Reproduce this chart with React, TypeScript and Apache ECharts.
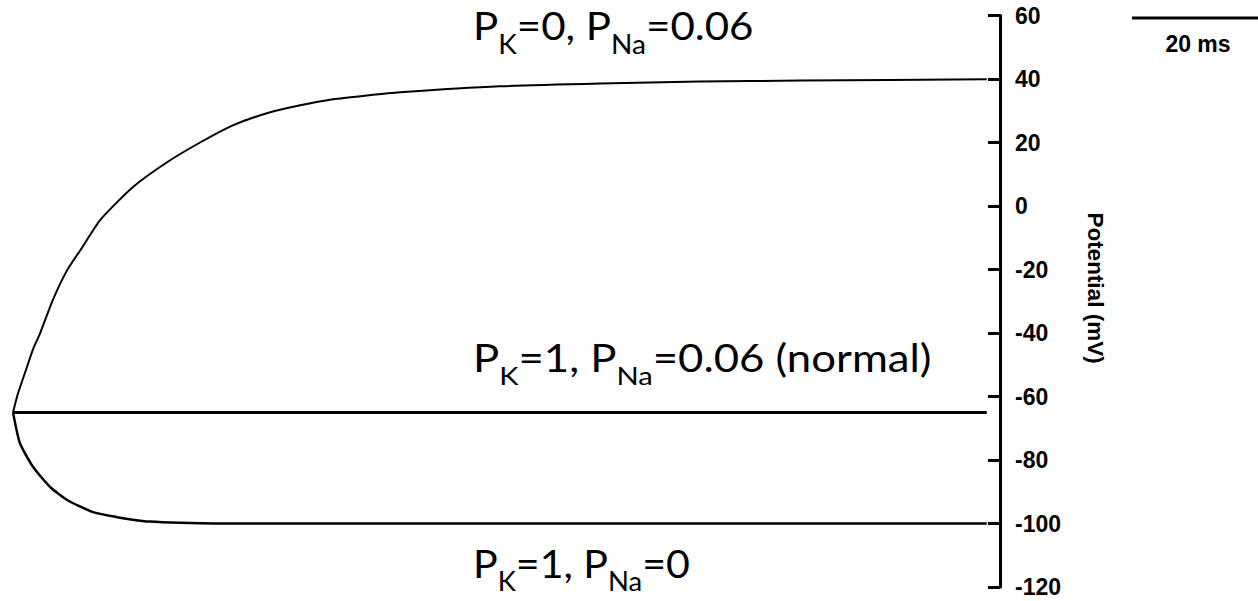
import React, { useEffect, useRef } from "react";
import * as echarts from "echarts";

// time (ms) and membrane potential (mV)
const depolTime = [0, 0.8, 2.2, 3.2, 4.3, 6.3, 8.6, 11, 13.8, 19, 24.4, 29.7, 34.9, 40.3, 45.6, 50.8, 56.2, 61.4, 77.3, 93.2, 109, 125, 154.6];
const depolMv = [-65, -59, -50.8, -45, -40.1, -29.7, -20.2, -13, -4.5, 5.9, 13.7, 20, 25.4, 29.2, 31.7, 33.6, 34.8, 35.8, 37.7, 38.6, 39.2, 39.5, 39.9];

const normalTime = [0, 154.6];
const normalMv = [-65, -65];

const hyperTime = [0, 1.1, 3.2, 5.9, 8.6, 12.7, 16.5, 19, 21.7, 26.5, 32, 154.6];
const hyperMv = [-65, -74.7, -82.2, -88.5, -92.6, -96.4, -98.0, -98.8, -99.4, -99.8, -100, -100];

const yMin = -120;
const yMax = 60;
const yStep = 20;
const xMax = 156.7;
const scaleBarMs = 20;
const scaleBarLabel = "20 ms";
const yAxisName = "Potential (mV)";

const labelTop = "{m|P}{s|K}{m|=0, P}{s|Na}{m|=0.06}";
const labelNormal = "{m|P}{s|K}{m|=1, P}{s|Na}{m|=0.06 (normal)}";
const labelBottom = "{m|P}{s|K}{m|=1, P}{s|Na}{m|=0}";

const zip = (t: number[], v: number[]) => t.map((x, i) => [x, v[i]]);

const W = 1258;
const H = 601;
const gridLeft = 13;
const gridRight = 258;
const gridTop = 15.5;
const gridBottom = 14;

const rich = {
  m: { fontFamily: "Lato", fontSize: 39, lineHeight: 48, verticalAlign: "top", fill: "#000" },
  s: { fontFamily: "Lato", fontSize: 26, lineHeight: 26, verticalAlign: "top", padding: [25, 0, 0, 0], fill: "#000" },
};

export default function App() {
  const ref = useRef<HTMLDivElement>(null);
  useEffect(() => {
    if (!ref.current) return;
    const chart = echarts.init(ref.current, undefined, { renderer: "svg" });
    const pxPerMs = (W - gridLeft - gridRight) / xMax;
    const barLen = scaleBarMs * pxPerMs;
    const barX = 1132;
    const lineBase = { type: "line", showSymbol: false, symbol: "none", smooth: 0.2, silent: true };
    const font = "Liberation Sans, Arial";
    chart.setOption({
      animation: false,
      grid: { left: gridLeft, right: gridRight, top: gridTop, bottom: gridBottom },
      xAxis: { type: "value", min: 0, max: xMax, show: false },
      yAxis: {
        type: "value",
        position: "right",
        min: yMin,
        max: yMax,
        interval: yStep,
        axisLine: { show: true, onZero: false, lineStyle: { color: "#000", width: 3 } },
        axisTick: { show: true, inside: true, length: 12, lineStyle: { color: "#000", width: 3 } },
        axisLabel: { margin: 15, color: "#000", fontFamily: font, fontWeight: "bold", fontSize: 23 },
        splitLine: { show: false },
      },
      series: [
        { ...lineBase, data: zip(depolTime, depolMv), lineStyle: { color: "#000", width: 2 } },
        { ...lineBase, data: zip(normalTime, normalMv), lineStyle: { color: "#000", width: 3 } },
        { ...lineBase, data: zip(hyperTime, hyperMv), lineStyle: { color: "#000", width: 2.5 } },
      ],
      graphic: [
        { type: "line", shape: { x1: barX, y1: 18, x2: barX + barLen, y2: 18 }, style: { stroke: "#000", lineWidth: 3 } },
        { type: "text", x: barX + barLen / 2 + 3, y: 44, style: { text: scaleBarLabel, align: "center", verticalAlign: "middle", fontFamily: font, fontWeight: "bold", fontSize: 23, fill: "#000" } },
        { type: "text", x: 1095, y: 288, rotation: -Math.PI / 2, style: { text: yAxisName, align: "center", verticalAlign: "middle", fontFamily: font, fontWeight: "bold", fontSize: 22.5, fill: "#000" } },
        { type: "text", x: 473, y: 6, scaleX: 1.078, style: { text: labelTop, rich, align: "left", verticalAlign: "top" } },
        { type: "text", x: 473, y: 337, scaleX: 1.12, style: { text: labelNormal, rich, align: "left", verticalAlign: "top" } },
        { type: "text", x: 473, y: 543, scaleX: 1.054, style: { text: labelBottom, rich, align: "left", verticalAlign: "top" } },
      ],
    });
    return () => chart.dispose();
  }, []);
  return <div ref={ref} style={{ position: "fixed", left: 0, top: 0, width: W, height: H, background: "#fff" }} />;
}
